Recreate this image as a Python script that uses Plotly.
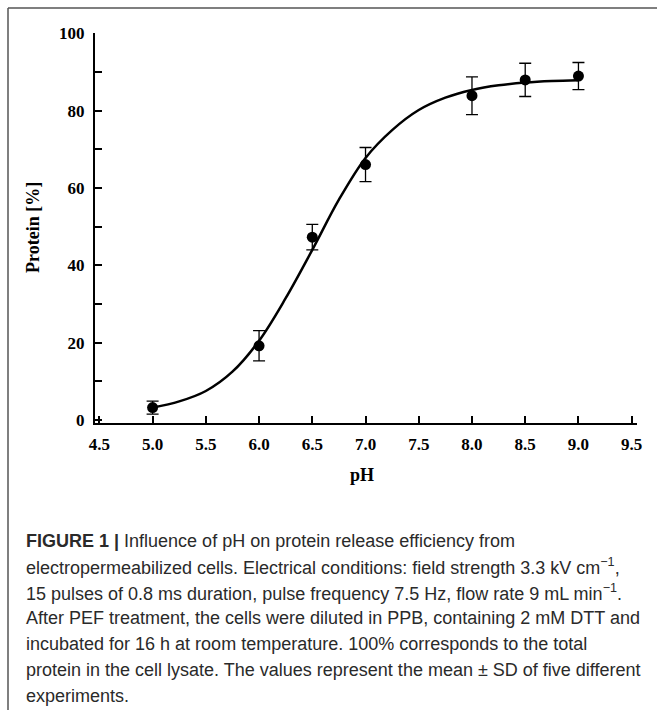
import plotly.graph_objects as go

# ---- data ----
ph = [5.0, 6.0, 6.5, 7.0, 8.0, 8.5, 9.0]
protein = [3.2, 19.2, 47.3, 66.1, 83.9, 88.0, 89.0]
protein_sd = [1.7, 3.9, 3.3, 4.4, 4.9, 4.3, 3.5]

curve_ph = [5.0, 5.25, 5.5, 5.75, 6.0, 6.25, 6.5, 6.75, 7.0, 7.25, 7.5, 7.75, 8.0, 8.25, 8.5, 8.75, 9.0]
curve_protein = [3.2, 4.8, 7.5, 12.5, 20.5, 31.5, 44.0, 57.0, 67.8, 75.0, 80.2, 83.4, 85.4, 86.6, 87.3, 87.7, 87.9]

x_ticks = [4.5, 5.0, 5.5, 6.0, 6.5, 7.0, 7.5, 8.0, 8.5, 9.0, 9.5]
x_tick_labels = ["4.5", "5.0", "5.5", "6.0", "6.5", "7.0", "7.5", "8.0", "8.5", "9.0", "9.5"]
y_ticks = [0, 10, 20, 30, 40, 50, 60, 70, 80, 90, 100]
y_tick_labels = ["0", "", "20", "", "40", "", "60", "", "80", "", "100"]

caption_lines = [
    "<b>FIGURE 1 |</b> Influence of pH on protein release efficiency from",
    "electropermeabilized cells. Electrical conditions: field strength 3.3 kV cm<sup>−1</sup>,",
    "15 pulses of 0.8 ms duration, pulse frequency 7.5 Hz, flow rate 9 mL min<sup>−1</sup>.",
    "After PEF treatment, the cells were diluted in PPB, containing 2 mM DTT and",
    "incubated for 16 h at room temperature. 100% corresponds to the total",
    "protein in the cell lysate. The values represent the mean ± SD of five different",
    "experiments.",
]

# ---- layout geometry (pixels) ----
W, H = 657, 710
ML, MR, MT, MB = 95, 20, 33, 287
PW = W - ML - MR
PH_ = H - MT - MB


def xp(px):
    return (px - ML) / PW


def yp(py):
    return (H - MB - py) / PH_


serif = "Liberation Serif"
sans = "Liberation Sans"

fig = go.Figure()

fig.add_trace(go.Scatter(
    x=curve_ph, y=curve_protein, mode="lines",
    line=dict(color="black", width=2.5, shape="spline", smoothing=1.0),
    hoverinfo="skip", showlegend=False,
))

fig.add_trace(go.Scatter(
    x=ph, y=protein, mode="markers",
    marker=dict(color="black", size=11),
    error_y=dict(type="data", array=protein_sd, visible=True,
                 color="black", thickness=1.3, width=6),
    showlegend=False,
))

axis_common = dict(
    showgrid=False, zeroline=False, showline=True, linecolor="black", linewidth=2,
    ticks="inside", ticklen=7, tickwidth=1.8, tickcolor="black",
    tickfont=dict(family=serif, size=17, color="black", weight="bold"),
    ticklabelstandoff=5,
)

fig.update_xaxes(range=[4.459, 9.55], tickvals=x_ticks, ticktext=x_tick_labels, **axis_common)
fig.update_yaxes(range=[-0.78, 100.13], tickvals=y_ticks, ticktext=y_tick_labels, **axis_common)

annotations = []
annotations.append(dict(
    text="<b>pH</b>", x=xp(362), y=yp(475), xref="paper", yref="paper",
    xanchor="center", yanchor="middle", showarrow=False,
    font=dict(family=serif, size=18, color="black"),
))
annotations.append(dict(
    text="<b>Protein [%]</b>", x=xp(33), y=yp(228), xref="paper", yref="paper",
    xanchor="center", yanchor="middle", showarrow=False, textangle=-90,
    font=dict(family=serif, size=18, color="black"),
))

line_y0, line_dy = 541, 25.8
for i, line in enumerate(caption_lines):
    annotations.append(dict(
        text=line, x=xp(24), y=yp(line_y0 + i * line_dy), xref="paper", yref="paper",
        xanchor="left", yanchor="middle", showarrow=False, align="left",
        font=dict(family=sans, size=18, color="#2a2a2a"),
    ))

shapes = [
    dict(type="line", xref="paper", yref="paper", x0=xp(8), x1=xp(657), y0=yp(8), y1=yp(8),
         line=dict(color="#555555", width=1.5)),
    dict(type="line", xref="paper", yref="paper", x0=xp(8), x1=xp(8), y0=yp(8), y1=yp(710),
         line=dict(color="#555555", width=1.5)),
]

fig.update_layout(
    width=W, height=H, margin=dict(l=ML, r=MR, t=MT, b=MB, autoexpand=False),
    paper_bgcolor="white", plot_bgcolor="white",
    annotations=annotations, shapes=shapes, showlegend=False,
)

fig.write_html("out.html")
